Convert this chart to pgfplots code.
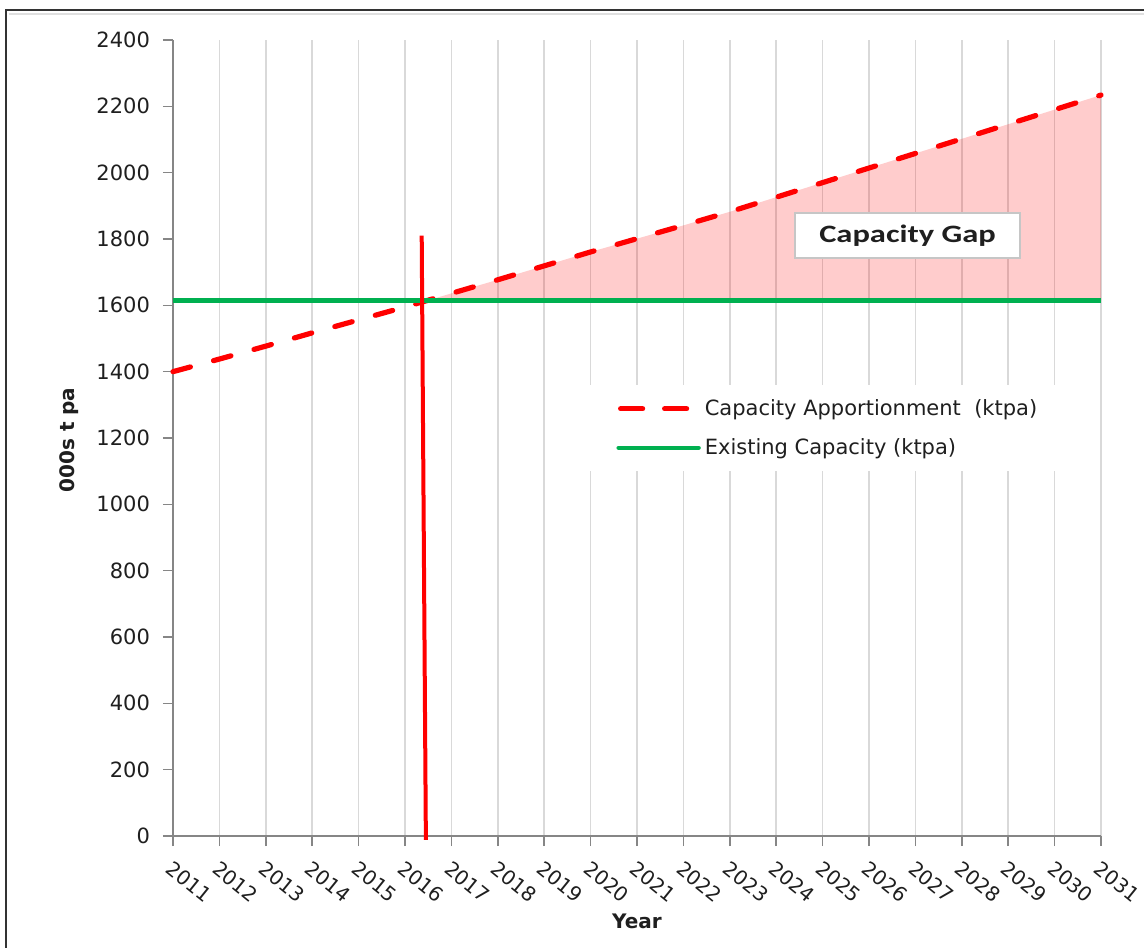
\documentclass[border=0pt]{standalone}
\usepackage{pgfplots}
\pgfplotsset{compat=1.18}
\usepackage{fontspec}
\setmainfont{DejaVu Sans}
\newfontfamily\gapfont{Carlito}[FakeStretch=1.3]
\definecolor{exgreen}{HTML}{00B050}
\definecolor{gridgray}{HTML}{D9D9D9}
\definecolor{axgray}{HTML}{868686}
\definecolor{txt}{HTML}{1F1F1F}

\begin{document}
\begin{tikzpicture}
\path[use as bounding box] (-86.5pt,-55.5pt) rectangle (485.5pt,418pt);
\draw[line width=1pt, black!80] (-83.5pt,-60pt) -- (-83.5pt,413pt) -- (490pt,413pt);
\draw[line width=0.6pt, gray!25] (-82pt,411pt) -- (490pt,411pt);
\begin{axis}[
  at={(0pt,0pt)}, anchor=south west,
  scale only axis, width=464pt, height=398pt,
  xmin=2011, xmax=2031, ymin=0, ymax=2400,
  axis x line=bottom, axis y line=left,
  axis line style={axgray, line width=0.8pt, -},
  xtick={2011,2012,...,2031}, ytick={0,200,...,2400},
  tick align=outside, major tick length=5pt,
  tick style={axgray, line width=0.8pt},
  xmajorgrids, grid style={gridgray, line width=0.8pt},
  /pgf/number format/1000 sep={},
  /pgf/number format/assume math mode=true,
  tick label style={font=\fontsize{10.5}{12}\selectfont, color=txt},
  xticklabel style={font=\fontsize{10}{12}\selectfont, xshift=0pt, yshift=-2pt, rotate=-39, anchor=north west},
  yticklabel style={xshift=-3pt},
  xlabel={\textbf{Year}}, ylabel={\textbf{000s t pa}},
  xlabel style={font=\fontsize{10}{12}\selectfont, color=txt, at={(axis description cs:0.5,-0.1068)}, anchor=center},
  ylabel style={font=\fontsize{10}{12}\selectfont, color=txt, at={(axis description cs:-0.112,0.4975)}, anchor=center},
  legend style={at={(0.4386,0.5666)}, anchor=north west, draw=none, fill=white,
    font=\fontsize{10.5}{12}\selectfont, text=txt, inner xsep=18pt, inner ysep=5pt,
    row sep=6pt, cells={anchor=west}},
  legend cell align=left,
  clip=false,
]
% capacity gap shading
\addplot[draw=none, fill=red, fill opacity=0.2, forget plot] coordinates {
 (2016.47,1614) (2017,1636) (2018,1677) (2019,1719) (2020,1761) (2021,1801)
 (2022,1841) (2023,1882) (2024,1926) (2025,1970) (2026,2014) (2027,2058)
 (2028,2102) (2029,2146) (2030,2190) (2031,2234) (2031,1614) (2016.47,1614)};
% capacity apportionment
\addplot[red, line width=2.6pt, line cap=round, dash pattern=on 9pt off 12pt,
  legend image code/.code={\draw[red, line width=2.6pt, line cap=round, dash pattern=on 11pt off 11pt] (1.5pt,0pt) -- (38.5pt,0pt);}]
 coordinates {
 (2011,1400) (2012,1438) (2013,1477) (2014,1517) (2015,1556) (2016,1595)
 (2017,1636) (2018,1677) (2019,1719) (2020,1761) (2021,1801) (2022,1841)
 (2023,1882) (2024,1926) (2025,1970) (2026,2014) (2027,2058) (2028,2102)
 (2029,2146) (2030,2190) (2031,2234)};
\addlegendentry{Capacity Apportionment\ \ (ktpa)}
% existing capacity
\addplot[exgreen, line width=2.2pt,
  legend image code/.code={\draw[exgreen, line width=2.2pt, line cap=round] (0.5pt,0pt) -- (40.5pt,0pt);}]
 coordinates {(2011,1614) (2031,1614)};
\addlegendentry{Existing Capacity (ktpa)}
% vertical marker
\addplot[red, line width=2pt, forget plot] coordinates {(2016.36,1810) (2016.45,-12)};
\node[draw=gray!45, fill=white, line width=0.8pt, minimum width=112.5pt, minimum height=22.5pt,
  font=\gapfont\bfseries\fontsize{12.5}{14}\selectfont, text=txt] at (axis cs:2026.83,1810) {Capacity Gap};
\end{axis}
\end{tikzpicture}
\end{document}
